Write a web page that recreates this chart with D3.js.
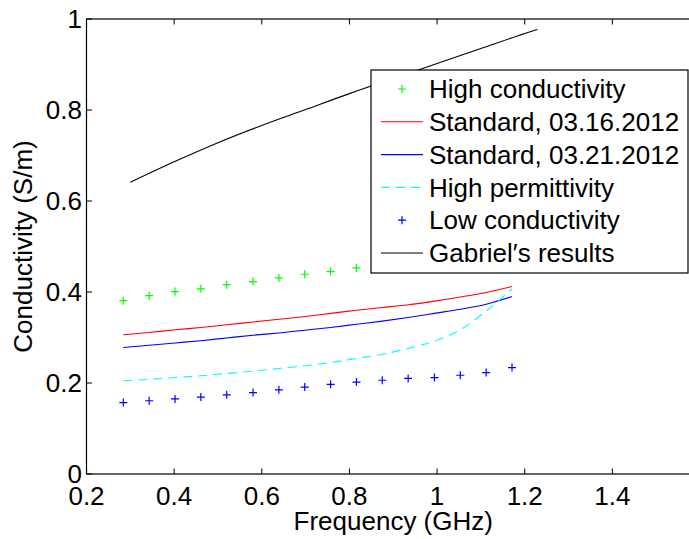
<!DOCTYPE html>
<html>
<head>
<meta charset="utf-8">
<script src="https://cdn.jsdelivr.net/npm/d3@7"></script>
<style>
  html, body { margin: 0; padding: 0; background: #fff; }
  svg { display: block; font-family: "Liberation Sans", Arial, Helvetica, sans-serif; }
</style>
</head>
<body>
<svg id="chart" width="689" height="539"></svg>
<script>
// ---- data ----
const freq = [0.284, 0.343, 0.402, 0.461, 0.520, 0.580, 0.639, 0.698, 0.757, 0.816, 0.875, 0.934, 0.994, 1.053, 1.112, 1.171];
const highConductivity = [0.381, 0.392, 0.401, 0.407, 0.416, 0.423, 0.431, 0.439, 0.445, 0.453, 0.461, 0.469, 0.478, 0.487, 0.497, 0.510];
const standard0316 = [0.306, 0.311, 0.317, 0.322, 0.328, 0.334, 0.340, 0.346, 0.353, 0.360, 0.366, 0.372, 0.380, 0.389, 0.399, 0.412];
const standard0321 = [0.278, 0.283, 0.288, 0.293, 0.299, 0.305, 0.310, 0.316, 0.322, 0.329, 0.336, 0.344, 0.353, 0.362, 0.373, 0.390];
const highPermittivity = [0.205, 0.208, 0.212, 0.216, 0.221, 0.226, 0.232, 0.238, 0.245, 0.254, 0.263, 0.276, 0.292, 0.317, 0.358, 0.407];
const lowConductivity = [0.157, 0.161, 0.165, 0.169, 0.174, 0.179, 0.185, 0.191, 0.197, 0.202, 0.206, 0.210, 0.212, 0.217, 0.223, 0.234];
const gabrielFreq = [0.30, 0.40, 0.50, 0.60, 0.70, 0.80, 0.90, 1.00, 1.10, 1.20, 1.229];
const gabriel = [0.641, 0.686, 0.728, 0.766, 0.801, 0.836, 0.869, 0.902, 0.935, 0.968, 0.977];
const xTicks = [0.2, 0.4, 0.6, 0.8, 1, 1.2, 1.4];
const yTicks = [0, 0.2, 0.4, 0.6, 0.8, 1];
const legendLabels = ["High conductivity", "Standard, 03.16.2012", "Standard, 03.21.2012", "High permittivity", "Low conductivity", "Gabriel\u2032s results"];

// ---- layout ----
const svg = d3.select("#chart");
const mLeft = 86.5, mRight = 700, mTop = 19, mBottom = 474;
const x = d3.scaleLinear().domain([0.2, 1.6]).range([mLeft, mRight]);
const y = d3.scaleLinear().domain([0, 1]).range([mBottom, mTop]);
const fs = 26;

const series = [
  {label: legendLabels[0], type: "marker", color: "#00ff00", xs: freq, ys: highConductivity},
  {label: legendLabels[1], type: "line", color: "#ff0000", xs: freq, ys: standard0316},
  {label: legendLabels[2], type: "line", color: "#0000ff", xs: freq, ys: standard0321},
  {label: legendLabels[3], type: "dash", color: "#00ffff", xs: freq, ys: highPermittivity},
  {label: legendLabels[4], type: "marker", color: "#0000ff", xs: freq, ys: lowConductivity},
  {label: legendLabels[5], type: "line", color: "#000000", xs: gabrielFreq, ys: gabriel}
];

const plot = svg.append("g");
const ms = 4;
function plus(g, cx, cy, color) {
  g.append("path")
    .attr("d", `M${cx - ms},${cy}H${cx + ms}M${cx},${cy - ms}V${cy + ms}`)
    .attr("stroke", color).attr("stroke-width", 1.2).attr("fill", "none");
}

series.forEach(s => {
  const pts = s.xs.map((v, i) => [v, s.ys[i]]);
  if (s.type === "marker") {
    pts.forEach(p => plus(plot, x(p[0]), y(p[1]), s.color));
  } else {
    const line = d3.line().x(d => x(d[0])).y(d => y(d[1])).curve(d3.curveMonotoneX);
    plot.append("path").attr("d", line(pts))
      .attr("fill", "none").attr("stroke", s.color).attr("stroke-width", 1.1)
      .attr("stroke-dasharray", s.type === "dash" ? "9,6" : null);
  }
});

// ---- axes box ----
const axes = svg.append("g").attr("stroke", "#000").attr("fill", "none");
axes.append("rect").attr("x", mLeft).attr("y", mTop).attr("width", mRight - mLeft).attr("height", mBottom - mTop)
  .attr("stroke-width", 1.2);
const tl = 5.5;
xTicks.forEach(t => {
  axes.append("line").attr("x1", x(t)).attr("x2", x(t)).attr("y1", mBottom).attr("y2", mBottom - tl);
  axes.append("line").attr("x1", x(t)).attr("x2", x(t)).attr("y1", mTop).attr("y2", mTop + tl);
});
yTicks.forEach(t => {
  axes.append("line").attr("x1", mLeft).attr("x2", mLeft + tl).attr("y1", y(t)).attr("y2", y(t));
});

const fmt = d => (d === 0 || d === 1) ? String(d) : d3.format(".1f")(d);
svg.append("g").selectAll("text").data(xTicks).join("text")
  .attr("x", d => x(d)).attr("y", 505).attr("text-anchor", "middle")
  .attr("font-size", fs).text(fmt);
svg.append("g").selectAll("text").data(yTicks).join("text")
  .attr("x", 82).attr("y", d => y(d)).attr("dy", "0.35em").attr("text-anchor", "end")
  .attr("font-size", fs).text(fmt);

svg.append("text").attr("x", (mLeft + mRight) / 2).attr("y", 530).attr("text-anchor", "middle")
  .attr("font-size", fs).text("Frequency (GHz)");
svg.append("text").attr("transform", `translate(32,${(mTop + mBottom) / 2}) rotate(-90)`)
  .attr("text-anchor", "middle").attr("font-size", fs).text("Conductivity (S/m)");

// ---- legend ----
const lg = svg.append("g");
lg.append("rect").attr("x", 371).attr("y", 70).attr("width", 317).attr("height", 203)
  .attr("fill", "#fff").attr("stroke", "#000").attr("stroke-width", 1.2);
series.forEach((s, i) => {
  const cy = 89 + i * 32.8;
  if (s.type === "marker") {
    plus(lg, 402, cy, s.color);
  } else {
    lg.append("line").attr("x1", 381).attr("x2", 423).attr("y1", cy).attr("y2", cy)
      .attr("stroke", s.color).attr("stroke-width", 1.1)
      .attr("stroke-dasharray", s.type === "dash" ? "9,6" : null);
  }
  lg.append("text").attr("x", 429).attr("y", cy).attr("dy", "0.35em")
    .attr("font-size", fs).text(s.label);
});
</script>
</body>
</html>
